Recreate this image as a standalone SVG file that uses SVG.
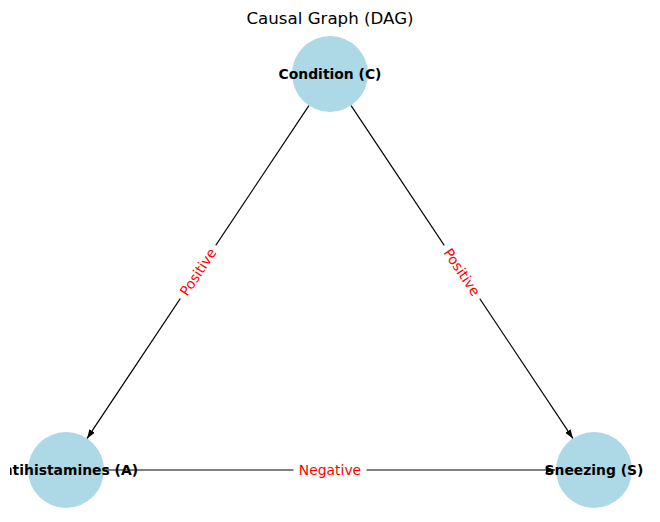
<svg xmlns="http://www.w3.org/2000/svg" width="660" height="522" viewBox="0 0 660 522">
<style>
.node{fill:#add8e6}
.nl{font-family:"DejaVu Sans",sans-serif;font-size:13.9px;font-weight:bold;fill:#000;text-anchor:middle}
.edge{stroke:#000;stroke-width:1.2;fill:none}
.el{font-family:"DejaVu Sans",sans-serif;font-size:13.9px;fill:#ff0000;text-anchor:middle}
.bg{fill:#fff}
.title{font-family:"DejaVu Sans",sans-serif;font-size:16.67px;fill:#000;text-anchor:middle}
</style>
<defs>
<marker id="arr" viewBox="0 0 10 10" refX="10" refY="5" markerWidth="9" markerHeight="9" markerUnits="userSpaceOnUse" orient="auto">
<path d="M0,1.5 L10,5 L0,8.5 Z" fill="#000"/>
</marker>
<clipPath id="axes"><rect x="10" y="0" width="640" height="522"/></clipPath>
</defs>
<rect width="660" height="522" fill="#fff"/>
<text class="title" x="330" y="24">Causal Graph (DAG)</text>
<g id="node-C"><circle class="node" cx="330" cy="74" r="38"/><text class="nl" x="330" y="78.5" clip-path="url(#axes)">Condition (C)</text></g>
<g id="node-A"><circle class="node" cx="66" cy="470" r="38"/><text class="nl" x="65" y="474.5" clip-path="url(#axes)">Antihistamines (A)</text></g>
<g id="node-S"><circle class="node" cx="594" cy="470" r="38"/><text class="nl" x="594" y="474.5" clip-path="url(#axes)">Sneezing (S)</text></g>
<g id="connectors">
<line class="edge" x1="308.9" y1="105.6" x2="87.1" y2="438.4" marker-end="url(#arr)"/>
<line class="edge" x1="351.1" y1="105.6" x2="572.9" y2="438.4" marker-end="url(#arr)"/>
<line class="edge" x1="104" y1="470" x2="555" y2="470" marker-end="url(#arr)"/>
<g transform="translate(198,272) rotate(-56.31)"><rect class="bg" x="-32" y="-10" width="64" height="20"/><text class="el" x="0" y="5">Positive</text></g>
<g transform="translate(462,272) rotate(56.31)"><rect class="bg" x="-32" y="-10" width="64" height="20"/><text class="el" x="0" y="5">Positive</text></g>
<g transform="translate(330,470)"><rect class="bg" x="-36.5" y="-10" width="73" height="20"/><text class="el" x="0" y="5">Negative</text></g>
</g>
</svg>
